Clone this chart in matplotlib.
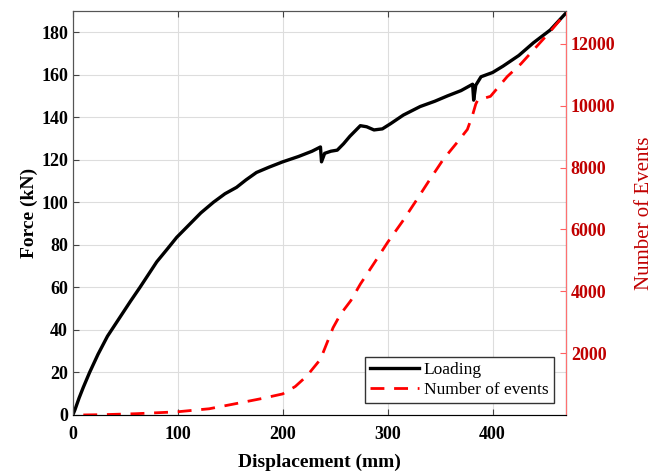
import numpy as np
import matplotlib.pyplot as plt

plt.rcParams['font.family'] = ['Liberation Serif', 'DejaVu Serif']

# Force vs displacement
disp_f = [0, 2, 6, 10, 16, 24, 33, 45, 55, 64, 72, 80, 90, 99, 110, 122, 134, 145, 156,
          165, 175, 187, 200, 215, 228, 236, 237, 240, 246, 252, 258, 264, 274, 280, 287,
          295, 303, 315, 331, 345, 357, 370, 381, 382, 384, 389, 400, 410, 425, 439, 455, 470]
force = [0, 2.4, 8, 13, 20, 28.5, 37, 46, 53.5, 60, 66, 72, 78, 83.5, 89, 95, 100, 104, 107,
         110.5, 114, 116.5, 119, 121.5, 124, 126, 119, 123, 124, 124.5, 127.5, 131, 136, 135.5, 134,
         134.5, 137, 141, 145, 147.5, 150, 152.5, 155.5, 148, 155, 159, 161, 164, 169, 175, 181, 189]

# Cumulative number of events
disp_n = [10, 30, 60, 99, 130, 153, 180, 200, 212, 223, 236, 248, 255, 265, 274, 287,
          300, 314, 328, 340, 353, 366, 376, 381, 384, 386, 392, 398, 414, 427, 439, 455, 470]
events = [0, 10, 40, 100, 200, 350, 530, 680, 920, 1260, 1800, 2820, 3250, 3700, 4230,
          4900, 5580, 6250, 6970, 7600, 8260, 8800, 9230, 9700, 10050, 10190, 10240, 10300, 10940,
          11350, 11800, 12400, 13000]

fig, ax = plt.subplots(figsize=(6.62, 4.71), dpi=100)
fig.subplots_adjust(left=0.110, right=0.855, bottom=0.119, top=0.977)

l1, = ax.plot(disp_f, force, color='black', lw=2.4, label='Loading')
ax.set_xlim(0, 470)
ax.set_ylim(0, 190)
ax.set_xticks([0, 100, 200, 300, 400])
ax.set_yticks(np.arange(0, 181, 20))
ax.grid(True, color='#dddddd', lw=0.8)
ax.tick_params(direction='in', top=True, labelsize=13, length=4, color='#444444')
ax.tick_params(axis='x', pad=8)
for lab in ax.get_xticklabels() + ax.get_yticklabels():
    lab.set_fontweight('bold')
ax.set_xlabel('Displacement (mm)', fontsize=14, fontweight='bold', labelpad=8)
ax.set_ylabel('Force (kN)', fontsize=14, fontweight='bold', labelpad=2)
for s in ['top', 'left', 'bottom']:
    ax.spines[s].set_color('#555555')

ax2 = ax.twinx()
l2, = ax2.plot(disp_n, events, color='red', lw=2, ls=(0, (5, 3.5)), label='Number of events')
ax2.set_ylim(0, 13065)
ax2.set_yticks(np.arange(2000, 12001, 2000))
ax2.tick_params(direction='in', colors='#c00000', labelsize=13, length=4)
ax2.tick_params(axis='y', color='#ff6060')
for lab in ax2.get_yticklabels():
    lab.set_fontweight('bold')
ax2.spines['right'].set_color('#ff7070')
ax2.spines['top'].set_color('#555555')
ax2.spines['left'].set_color('#555555')
ax2.set_ylabel('Number of Events', fontsize=15, color='#c00000', labelpad=14)

leg = ax2.legend(handles=[l1, l2], loc='lower right', bbox_to_anchor=(0.975, 0.03),
                 fontsize=12.5, fancybox=False, framealpha=1, edgecolor='#333333',
                 borderpad=0.3, labelspacing=0.2, handlelength=2.8, handletextpad=0.3,
                 borderaxespad=0)
leg.get_frame().set_linewidth(1.0)

fig.savefig('out.png', dpi=100)
